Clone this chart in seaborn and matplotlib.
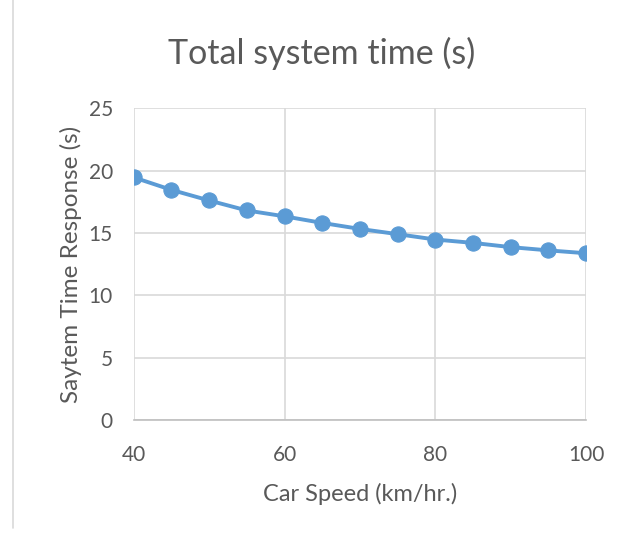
import numpy as np
import pandas as pd
import matplotlib
matplotlib.use("Agg")
import matplotlib.pyplot as plt
import seaborn as sns

# dados
car_speed = [40, 45, 50, 55, 60, 65, 70, 75, 80, 85, 90, 95, 100]
system_time = [19.45, 18.45, 17.6, 16.8, 16.33, 15.8, 15.32, 14.9, 14.47, 14.2, 13.86, 13.6, 13.37]

df = pd.DataFrame({"speed": car_speed, "time": system_time})

sns.set_style("white")
plt.rcParams['font.family'] = ['Lato', 'DejaVu Sans']

fig = plt.figure(figsize=(6.31, 5.33), dpi=100)
ax = fig.add_axes([0.212, 0.212, 0.717, 0.585])

grid_color = '#D9D9D9'
text_color = '#595959'
blue = '#5B9BD5'

sns.lineplot(data=df, x="speed", y="time", ax=ax, color=blue, linewidth=2.8,
             marker='o', markersize=11, markeredgecolor=blue, markerfacecolor=blue)

ax.set_xlim(40, 100)
ax.set_ylim(0, 25)
ax.set_xticks([40, 60, 80, 100])
ax.set_yticks([0, 5, 10, 15, 20, 25])
ax.grid(True, color=grid_color, linewidth=1.2)
ax.set_axisbelow(True)
for s in ['top', 'right', 'left']:
    ax.spines[s].set_visible(False)
ax.spines['bottom'].set_color('#BFBFBF')
ax.spines['bottom'].set_linewidth(1.2)
ax.tick_params(axis='x', length=0, labelsize=15, colors=text_color, pad=18)
ax.tick_params(axis='y', length=0, labelsize=15, colors=text_color, pad=15)

ax.set_xlabel('Car Speed (km/hr.)', fontsize=17, color=text_color, labelpad=13)
ax.set_ylabel('Saytem Time Response (s)', fontsize=17.5, color=text_color, labelpad=5)
fig.text(0.51, 0.9, 'Total system time (s)', fontsize=24.5, color=text_color,
         ha='center', va='center')

# borda esquerda da area do grafico
fig.add_artist(plt.Line2D([0.021, 0.021], [0.01, 1.0], color=grid_color, linewidth=1.2,
                          transform=fig.transFigure))

plt.savefig('out.png', dpi=100)
plt.close()
